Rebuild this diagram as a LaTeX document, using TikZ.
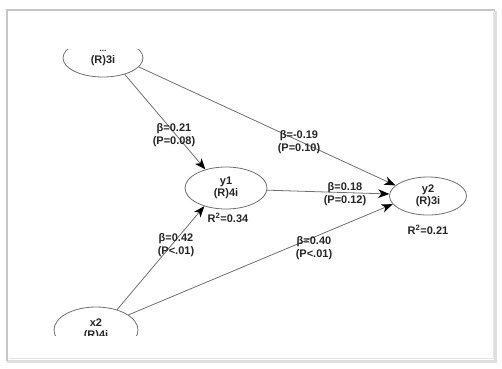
\documentclass[tikz,border=0pt]{standalone}
\usepackage{fontspec}
\setmainfont{Liberation Sans}[BoldFont={Liberation Sans Bold}]
\usetikzlibrary{shapes.geometric,arrows.meta}
\definecolor{txt}{HTML}{262626}
\definecolor{ln}{HTML}{707070}
\tikzset{
  lv/.style={ellipse, draw=ln, line width=0.8pt, inner sep=0pt, align=center,
    font=\fontsize{11}{12.5}\selectfont\bfseries, text=txt},
  lab/.style={align=center, font=\fontsize{11}{13.5}\selectfont\bfseries, text=txt, inner sep=0pt},
  path/.style={draw=ln, line width=0.8pt, -{Stealth[length=11pt,width=8.5pt,inset=3pt,color=black]}}
}
\begin{document}
\begin{tikzpicture}[x=1pt,y=-1pt]
\useasboundingbox (0,0) rectangle (502,368);
\fill[white] (0,0) rectangle (502,368);
% frame with soft shadow
\draw[gray!25, line width=3pt] (495,11) -- (495,361) -- (7,361);
\draw[gray!45, line width=2.2pt] (7,361) -- (7,10) -- (495,10);
\draw[gray!20, line width=1pt] (9,358) -- (493,358) -- (493,12);
% latent variables (some clipped like the screenshot)
\begin{scope}
\clip (0,49) rectangle (502,368);
\node[lv, minimum width=80pt, minimum height=38pt] (x1) at (103,58) {\fontsize{8}{9}\selectfont ...\\[-1pt](R)3i};
\end{scope}
\begin{scope}
\clip (0,0) rectangle (502,335);
\node[lv, minimum width=84pt, minimum height=46pt] (x2) at (96,330) {x2\\(R)4i};
\end{scope}
\node[lv, minimum width=82pt, minimum height=42pt] (y1) at (226,188) {y1\\(R)4i};
\node[lv, minimum width=77pt, minimum height=38pt] (y2) at (428,196) {y2\\(R)3i};
% paths
\draw[path] (x1.-37) -- (y1.138);
\draw[path] (x1.-14) -- (y2.162);
\draw[path] (y1.-3) -- (y2.177);
\draw[path] (x2.44) -- (y1.-140);
\draw[path] (x2.25) -- (y2.-167);
% labels
\node[lab] (l1) at (174,135) {β=0.21\\(P=0.08)};
\node[lab] (l2) at (299,142) {β=-0.19\\(P=0.10)};
\node[lab] (l3) at (345,194) {β=0.18\\(P=0.12)};
\node[lab] (l4) at (176,245) {β=0.42\\(P<.01)};
\node[lab] (l5) at (314,248) {β=0.40\\(P<.01)};
\node[lab] (r1) at (228,218) {R\textsuperscript{2}=0.34};
\node[lab] (r2) at (428,230) {R\textsuperscript{2}=0.21};
\end{tikzpicture}
\end{document}
